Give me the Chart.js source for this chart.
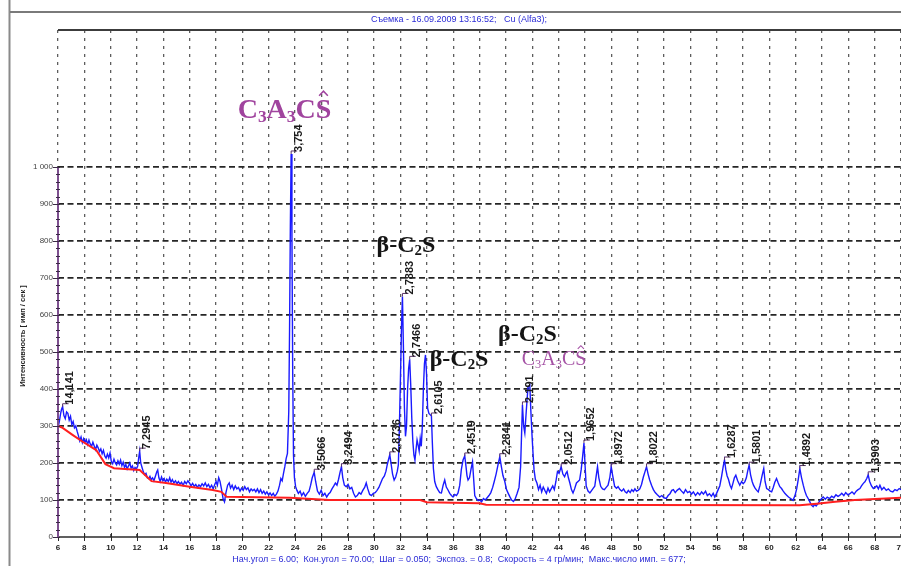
<!DOCTYPE html>
<html>
<head>
<meta charset="utf-8">
<script src="https://cdn.jsdelivr.net/npm/chart.js@4/dist/chart.umd.min.js"></script>
<style>
  html, body { margin: 0; padding: 0; background: #fff; }
  #wrap { width: 901px; height: 566px; position: relative; }
</style>
</head>
<body>
<div id="wrap"><canvas id="c" width="901" height="566"></canvas></div>
<script>
// Diffractogram: 2θ (degrees) and intensity (counts per second)
const scan = [
  [6.00,295],[6.10,312],[6.20,334],[6.27,345],[6.35,352],[6.45,328],[6.55,320],[6.65,338],[6.75,334],[6.85,316],
  [6.95,326],[7.05,304],[7.15,312],[7.25,295],[7.35,300],[7.45,286],[7.55,274],[7.65,260],[7.75,270],[7.85,255],
  [7.95,266],[8.05,256],[8.15,263],[8.25,250],[8.35,262],[8.45,251],[8.55,245],[8.65,256],[8.75,246],[8.85,236],
  [8.95,248],[9.05,241],[9.15,231],[9.25,238],[9.35,225],[9.45,234],[9.55,219],[9.65,213],[9.75,224],[9.85,214],
  [9.95,227],[10.05,204],[10.15,198],[10.25,210],[10.35,200],[10.45,195],[10.55,206],[10.65,197],[10.75,208],[10.85,193],
  [10.95,202],[11.05,188],[11.15,196],[11.25,184],[11.35,192],[11.45,200],[11.55,186],[11.65,192],[11.75,180],[11.85,188],
  [11.95,184],[12.05,192],[12.12,212],[12.20,232],[12.28,200],[12.38,188],[12.48,176],[12.58,168],[12.68,172],[12.78,160],
  [12.88,158],[12.98,164],[13.08,155],[13.18,160],[13.28,152],[13.40,165],[13.50,176],[13.57,181],[13.66,160],[13.76,150],
  [13.86,162],[13.96,152],[14.06,158],[14.16,148],[14.26,156],[14.38,150],[14.48,160],[14.58,148],[14.68,155],[14.80,146],
  [14.92,152],[15.04,144],[15.14,150],[15.26,143],[15.38,148],[15.50,139],[15.62,150],[15.74,144],[15.86,152],[15.98,146],
  [16.10,138],[16.22,145],[16.34,137],[16.46,142],[16.58,134],[16.70,141],[16.82,136],[16.94,144],[17.06,138],[17.18,146],
  [17.30,136],[17.42,142],[17.54,133],[17.66,140],[17.78,130],[17.90,142],[18.00,150],[18.10,140],[18.20,160],[18.30,150],
  [18.42,128],[18.53,104],[18.64,95],[18.75,120],[18.88,140],[19.00,146],[19.10,132],[19.22,140],[19.34,128],[19.46,138],
  [19.58,130],[19.70,134],[19.82,124],[19.94,132],[20.06,126],[20.18,136],[20.30,128],[20.42,133],[20.54,122],[20.66,130],
  [20.78,125],[20.90,129],[21.02,122],[21.14,130],[21.26,120],[21.38,128],[21.50,118],[21.62,124],[21.74,116],[21.86,122],
  [21.98,114],[22.10,119],[22.22,112],[22.34,118],[22.46,110],[22.58,116],[22.70,124],[22.82,140],[22.92,158],[23.02,152],
  [23.12,172],[23.22,190],[23.32,212],[23.42,226],[23.52,340],[23.58,560],[23.64,840],[23.70,1035],[23.76,820],[23.82,440],
  [23.88,220],[23.95,160],[24.04,136],[24.14,126],[24.25,118],[24.38,124],[24.50,112],[24.64,120],[24.78,110],[24.92,118],
  [25.06,124],[25.18,140],[25.30,160],[25.45,175],[25.56,150],[25.70,124],[25.84,116],[25.98,126],[26.12,112],[26.26,118],
  [26.40,108],[26.54,116],[26.66,120],[26.80,130],[26.94,138],[27.06,146],[27.18,140],[27.30,156],[27.42,176],[27.52,190],
  [27.62,160],[27.74,140],[27.88,136],[28.02,142],[28.16,130],[28.30,134],[28.44,118],[28.58,108],[28.72,112],[28.86,120],
  [29.00,116],[29.14,126],[29.28,134],[29.40,146],[29.52,130],[29.66,115],[29.80,112],[29.94,118],[30.08,120],[30.22,126],
  [30.36,134],[30.50,146],[30.64,158],[30.78,165],[30.90,178],[31.00,196],[31.10,210],[31.19,222],[31.28,200],[31.40,170],
  [31.52,154],[31.64,162],[31.76,178],[31.84,195],[31.92,300],[32.00,430],[32.08,570],[32.15,650],[32.22,520],[32.30,350],
  [32.38,272],[32.46,300],[32.54,400],[32.62,455],[32.70,480],[32.78,410],[32.86,320],[32.94,258],[33.02,222],[33.10,208],
  [33.18,236],[33.26,262],[33.34,248],[33.42,232],[33.50,266],[33.58,245],[33.66,300],[33.74,400],[33.82,468],[33.90,492],
  [33.98,440],[34.06,348],[34.16,334],[34.26,330],[34.35,327],[34.42,255],[34.50,185],[34.60,150],[34.72,136],[34.84,128],
  [34.98,120],[35.11,119],[35.24,140],[35.36,154],[35.48,135],[35.61,127],[35.74,118],[35.87,112],[35.99,108],[36.12,115],
  [36.25,112],[36.37,119],[36.50,140],[36.62,182],[36.75,208],[36.88,219],[36.97,192],[37.05,166],[37.13,154],[37.24,160],
  [37.36,184],[37.47,203],[37.55,160],[37.64,112],[37.76,104],[37.90,98],[38.02,100],[38.16,95],[38.30,104],[38.44,100],
  [38.58,106],[38.72,112],[38.86,120],[39.00,134],[39.12,150],[39.26,170],[39.40,194],[39.54,217],[39.66,190],[39.78,166],
  [39.92,150],[40.05,128],[40.18,118],[40.30,109],[40.44,100],[40.58,96],[40.72,104],[40.86,118],[41.00,134],[41.12,190],
  [41.26,357],[41.35,300],[41.44,281],[41.55,340],[41.68,404],[41.82,411],[41.90,340],[41.98,280],[42.06,228],[42.14,182],
  [42.24,156],[42.36,146],[42.48,128],[42.60,140],[42.72,122],[42.84,135],[42.96,126],[43.08,118],[43.20,132],[43.32,122],
  [43.44,130],[43.56,138],[43.68,128],[43.80,150],[43.92,177],[44.04,172],[44.20,190],[44.33,170],[44.46,163],[44.56,172],
  [44.65,177],[44.75,160],[44.86,146],[44.98,128],[45.10,119],[45.22,130],[45.36,146],[45.48,150],[45.60,154],[45.72,182],
  [45.83,218],[45.93,254],[46.02,190],[46.10,138],[46.24,124],[46.38,119],[46.52,126],[46.64,132],[46.75,137],[46.86,165],
  [46.96,190],[47.06,160],[47.20,137],[47.34,130],[47.48,128],[47.62,134],[47.76,140],[47.90,162],[48.00,190],[48.10,168],
  [48.26,137],[48.40,132],[48.52,136],[48.66,128],[48.80,124],[48.94,130],[49.06,122],[49.18,119],[49.30,126],[49.44,120],
  [49.56,128],[49.68,123],[49.80,130],[49.92,124],[50.04,126],[50.17,130],[50.30,142],[50.44,162],[50.56,176],[50.68,190],
  [50.80,170],[50.92,154],[51.06,140],[51.20,128],[51.34,120],[51.50,114],[51.68,108],[51.84,112],[52.00,106],[52.18,104],
  [52.32,112],[52.46,117],[52.60,126],[52.72,128],[52.86,120],[53.00,126],[53.18,131],[53.34,124],[53.50,118],[53.64,128],
  [53.80,120],[53.96,123],[54.10,116],[54.24,122],[54.40,112],[54.56,120],[54.72,114],[54.86,122],[55.00,116],[55.16,124],
  [55.30,112],[55.46,117],[55.60,110],[55.74,118],[55.86,108],[56.00,118],[56.12,128],[56.24,138],[56.38,164],[56.50,190],
  [56.60,208],[56.70,182],[56.80,165],[56.90,156],[57.02,140],[57.13,131],[57.24,145],[57.35,160],[57.46,167],[57.60,152],
  [57.76,140],[57.90,150],[58.02,144],[58.14,149],[58.26,160],[58.36,178],[58.47,194],[58.58,168],[58.70,150],[58.80,140],
  [58.92,132],[59.05,126],[59.16,122],[59.30,140],[59.45,165],[59.58,185],[59.68,150],[59.80,131],[59.94,128],[60.06,124],
  [60.18,122],[60.30,134],[60.42,148],[60.55,158],[60.68,146],[60.80,136],[60.93,131],[61.06,124],[61.18,118],[61.32,113],
  [61.46,108],[61.62,104],[61.80,99],[61.95,112],[62.08,130],[62.20,156],[62.32,185],[62.45,160],[62.58,140],[62.70,124],
  [62.82,112],[62.95,104],[63.08,95],[63.20,86],[63.33,82],[63.45,88],[63.56,84],[63.70,90],[63.84,98],[63.98,104],
  [64.10,108],[64.25,102],[64.40,108],[64.58,104],[64.74,110],[64.90,106],[65.06,114],[65.22,110],[65.36,113],[65.50,118],
  [65.66,112],[65.80,120],[65.96,114],[66.12,117],[66.28,122],[66.44,116],[66.60,124],[66.74,128],[66.88,131],[67.00,138],
  [67.14,145],[67.26,149],[67.40,158],[67.51,168],[67.62,150],[67.76,138],[67.90,131],[68.02,134],[68.16,138],[68.28,130],
  [68.40,140],[68.54,128],[68.70,134],[68.88,126],[69.04,130],[69.20,124],[69.38,122],[69.54,128],[69.70,125],[69.86,131],
  [70.00,128]
];

// Fitted background line
const background = [
  [6.0,300],[6.3,296],[7.1,276],[7.85,258],[8.9,235],[9.6,197],[10.25,186],[12.2,181],[13.1,151],[14.2,146],
  [16.0,136],[17.75,127],[18.4,122],[18.8,109],[23.6,106],[26.6,100],[33.5,100],[34.0,94],[38.0,91],[38.5,87],
  [62.3,86],[63.6,90],[65.0,95],[66.5,100],[70.0,106]
];

// Interplanar spacings (Å) marked at peak maxima: [2θ, d]
const peakMarks = [
  [6.35,'14,141'],[12.20,'7,2945'],[23.70,'3,754'],[25.45,'3,5066'],[27.52,'3,2494'],
  [31.19,'2,8736'],[32.15,'2,7883'],[32.70,'2,7466'],[34.35,'2,6105'],[36.88,'2,4519'],
  [39.54,'2,2841'],[41.26,'2,191'],[44.20,'2,0512'],[45.93,'1,9652'],[48.00,'1,8972'],
  [50.68,'1,8022'],[56.60,'1,6287'],[58.47,'1,5801'],[62.32,'1,4892'],[67.51,'1,3903']
];

const yTickValues = [0,100,200,300,400,500,600,700,800,900,1000];

const titleText = 'Съемка - 16.09.2009 13:16:52;   Cu (Alfa3);';
const footerText = 'Нач.угол = 6.00;  Кон.угол = 70.00;  Шаг = 0.050;  Экспоз. = 0.8;  Скорость = 4 гр/мин;  Макс.число имп. = 677;';
const yTitle = 'Интенсивность [ имп / сек ]';

// Phase formulas: pieces are [text, kind] where kind n = normal, s = subscript, h = with circumflex
const ettringiteLike = [['C','n'],['3','s'],['A','n'],['3','s'],['C','n'],['S','h']];
const belite = [['β-C','n'],['2','s'],['S','n']];
const phaseNotes = [
  { at: [19.64, 1132], parts: ettringiteLike, size: 28, weight: 'bold',   color: '#a0449e' },
  { at: [30.18, 770],  parts: belite,         size: 24, weight: 'bold',   color: '#141414' },
  { at: [34.22, 462],  parts: belite,         size: 24, weight: 'bold',   color: '#141414' },
  { at: [39.41, 530],  parts: belite,         size: 24, weight: 'bold',   color: '#141414' },
  { at: [41.21, 465],  parts: ettringiteLike, size: 20, weight: 'normal', color: '#a552a5' }
];

function drawFormula(ctx, parts, x, y, size, weight, color) {
  ctx.save();
  ctx.fillStyle = color;
  ctx.strokeStyle = color;
  ctx.textAlign = 'left';
  ctx.textBaseline = 'alphabetic';
  let cx = x;
  for (const [t, kind] of parts) {
    const fs = kind === 's' ? size * 0.62 : size;
    ctx.font = weight + ' ' + fs + 'px "Liberation Serif", "DejaVu Serif", serif';
    const dy = kind === 's' ? size * 0.14 : 0;
    ctx.fillText(t, cx, y + dy);
    const w = ctx.measureText(t).width;
    if (kind === 'h') {
      ctx.lineWidth = Math.max(1, size * 0.055);
      ctx.beginPath();
      ctx.moveTo(cx + w * 0.22, y - size * 0.8);
      ctx.lineTo(cx + w * 0.5, y - size * 0.96);
      ctx.lineTo(cx + w * 0.78, y - size * 0.8);
      ctx.stroke();
    }
    cx += w;
  }
  ctx.restore();
}

const decor = {
  id: 'decor',
  beforeDraw(chart) {
    const ctx = chart.ctx;
    ctx.save();
    ctx.fillStyle = '#ffffff';
    ctx.fillRect(0, 0, chart.width, chart.height);
    ctx.restore();
  },
  afterDraw(chart) {
    const ctx = chart.ctx;
    const xs = chart.scales.x, ys = chart.scales.y;
    const a = chart.chartArea;
    ctx.save();

    // window frame
    ctx.strokeStyle = '#8a8a8a';
    ctx.lineWidth = 2;
    ctx.beginPath();
    ctx.moveTo(9.5, 0); ctx.lineTo(9.5, chart.height);
    ctx.stroke();
    ctx.strokeStyle = '#7a7a7a';
    ctx.beginPath();
    ctx.moveTo(10, 12); ctx.lineTo(chart.width, 12);
    ctx.stroke();

    // plot top border
    ctx.strokeStyle = '#3c3c3c';
    ctx.lineWidth = 2;
    ctx.beginPath();
    ctx.moveTo(a.left, a.top); ctx.lineTo(a.right, a.top);
    ctx.stroke();

    // x axis with cross ticks
    const yb = ys.getPixelForValue(0);
    ctx.strokeStyle = '#2b2b2b';
    ctx.lineWidth = 1.5;
    ctx.beginPath();
    ctx.moveTo(a.left, yb); ctx.lineTo(a.right, yb);
    ctx.stroke();
    ctx.lineWidth = 1;
    ctx.beginPath();
    for (let v = 6; v <= 70; v += 2) {
      const px = Math.round(xs.getPixelForValue(v)) + 0.5;
      ctx.moveTo(px, yb - 4); ctx.lineTo(px, yb + 4);
    }
    ctx.stroke();

    // y axis (purple) up to 1000 with minor ticks
    const y1000 = ys.getPixelForValue(1000);
    ctx.strokeStyle = '#7d4f8f';
    ctx.lineWidth = 2;
    ctx.beginPath();
    ctx.moveTo(a.left, yb); ctx.lineTo(a.left, y1000);
    ctx.stroke();
    ctx.strokeStyle = '#3a2a45';
    ctx.lineWidth = 1;
    ctx.beginPath();
    for (let v = 0; v <= 1000; v += 20) {
      const py = Math.round(ys.getPixelForValue(v)) + 0.5;
      const major = v % 100 === 0;
      ctx.moveTo(a.left - (major ? 5 : 2), py); ctx.lineTo(a.left + 2, py);
    }
    ctx.stroke();

    // y axis title
    ctx.fillStyle = '#222';
    ctx.font = 'bold 7.5px "Liberation Sans", Arial, sans-serif';
    ctx.textAlign = 'center';
    ctx.textBaseline = 'middle';
    ctx.save();
    ctx.translate(23, 336);
    ctx.rotate(-Math.PI / 2);
    ctx.fillText(yTitle, 0, 0);
    ctx.restore();

    // header and footer lines
    ctx.fillStyle = '#2b2bd6';
    ctx.font = '9px "Liberation Sans", Arial, sans-serif';
    ctx.fillText(titleText, 459, 20);
    ctx.fillText(footerText, 459, 560);

    // d-spacing marks
    ctx.font = 'bold 11px "Liberation Sans", Arial, sans-serif';
    ctx.textAlign = 'left';
    ctx.textBaseline = 'middle';
    for (const [ang, txt] of peakMarks) {
      const pt = scan.find(p => p[0] === ang);
      const px = xs.getPixelForValue(pt[0]);
      const py = ys.getPixelForValue(pt[1]);
      ctx.strokeStyle = '#5b3566';
      ctx.lineWidth = 1;
      ctx.beginPath();
      ctx.moveTo(px, py); ctx.lineTo(px, py - 3); ctx.lineTo(px + 6, py - 3);
      ctx.stroke();
      ctx.fillStyle = '#1a1a1a';
      ctx.save();
      ctx.translate(px + 7.5, py - 2);
      ctx.rotate(-Math.PI / 2);
      ctx.fillText(txt, 0, 0);
      ctx.restore();
    }

    // phase names
    for (const n of phaseNotes) {
      drawFormula(ctx, n.parts, xs.getPixelForValue(n.at[0]), ys.getPixelForValue(n.at[1]), n.size, n.weight, n.color);
    }
    ctx.restore();
  }
};

new Chart(document.getElementById('c'), {
  type: 'line',
  data: {
    datasets: [
      {
        label: 'Фон',
        data: background.map(([x, y]) => ({ x, y })),
        borderColor: '#ff1f1f',
        borderWidth: 2,
        pointRadius: 0,
        tension: 0
      },
      {
        label: 'Cu (Alfa3)',
        data: scan.map(([x, y]) => ({ x, y })),
        borderColor: '#1a1aff',
        borderWidth: 1.4,
        pointRadius: 0,
        tension: 0
      }
    ]
  },
  options: {
    responsive: false,
    animation: false,
    devicePixelRatio: 1,
    layout: { padding: { top: 30, left: 0, right: 0, bottom: 0 }, autoPadding: false },
    plugins: { legend: { display: false }, tooltip: { enabled: false }, title: { display: false } },
    scales: {
      x: {
        type: 'linear',
        min: 6,
        max: 70,
        afterFit(s) { s.height = 29; s.paddingLeft = 0; s.paddingRight = 0; },
        border: { display: false, dash: [3, 5] },
        grid: { color: '#5e5e5e', lineWidth: 1.3, drawTicks: false },
        ticks: {
          stepSize: 2, autoSkip: false, maxRotation: 0, minRotation: 0, padding: 6,
          color: '#222',
          font: { family: '"Liberation Sans", Arial, sans-serif', size: 8, weight: 'bold' },
          callback: v => String(v)
        }
      },
      y: {
        type: 'linear',
        min: 0,
        max: 1370,
        afterFit(s) { s.width = 58; s.paddingTop = 0; s.paddingBottom = 0; },
        afterBuildTicks(s) { s.ticks = yTickValues.map(v => ({ value: v })); },
        border: { display: false, dash: [6, 3.5] },
        grid: {
          drawTicks: false,
          lineWidth: 1.7,
          color: c => (c.tick && c.tick.value === 0) ? 'rgba(0,0,0,0)' : '#262626'
        },
        ticks: {
          padding: 5,
          color: '#444',
          font: { family: '"Liberation Sans", Arial, sans-serif', size: 8 },
          callback: v => v === 1000 ? '1 000' : String(v)
        }
      }
    }
  },
  plugins: [decor]
});
</script>
</body>
</html>
